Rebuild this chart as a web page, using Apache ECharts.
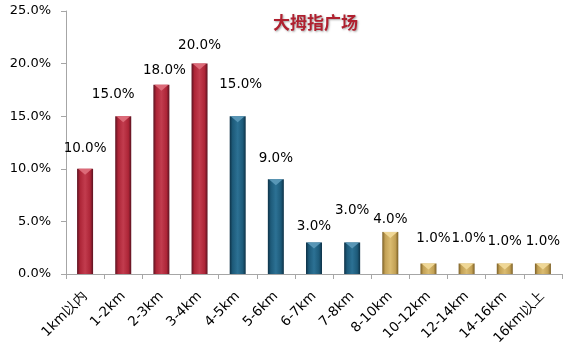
<!DOCTYPE html>
<html>
<head>
<meta charset="utf-8">
<script src="https://cdn.jsdelivr.net/npm/echarts@6/dist/echarts.min.js"></script>
<style>
  html, body { margin: 0; padding: 0; background: #fff; }
  #chart { width: 567px; height: 355px; }
</style>
</head>
<body>
<div id="chart"></div>
<script>
// 数据
const categories = ['1km以内', '1-2km', '2-3km', '3-4km', '4-5km', '5-6km', '6-7km', '7-8km', '8-10km', '10-12km', '12-14km', '14-16km', '16km以上'];
const shares = [10, 15, 18, 20, 15, 9, 3, 3, 4, 1, 1, 1, 1];
const groups = ['red', 'red', 'red', 'red', 'teal', 'teal', 'teal', 'teal', 'gold', 'gold', 'gold', 'gold', 'gold'];
const titleText = '大拇指广场';

// 配色
const palette = {
  red:  { edge: '#5a1220', mid: '#ad2537', light: '#c23c4e', tip: '#dc6a78' },
  teal: { edge: '#0d3146', mid: '#1d5a79', light: '#2c7194', tip: '#5896b6' },
  gold: { edge: '#7a5e25', mid: '#c3a155', light: '#dabb70', tip: '#efd796' }
};

// 数据标签微调 (Excel 里手动挪过)
const labelNudge = [[0, -8], [-10, -10], [3, -2], [0, -6], [3, -20], [0, -9], [0, -4], [0, -20], [0, 0], [5, -13], [2, -13], [0, -10], [0, -10]];

function barColor(g) {
  const c = palette[g];
  return new echarts.graphic.LinearGradient(0, 0, 1, 0, [
    { offset: 0, color: c.edge },
    { offset: 0.18, color: c.mid },
    { offset: 0.5, color: c.light },
    { offset: 0.82, color: c.mid },
    { offset: 1, color: c.edge }
  ]);
}

const barData = shares.map((v, i) => ({
  value: v,
  itemStyle: { color: barColor(groups[i]) },
  label: { offset: labelNudge[i] }
}));

const tipData = shares.map((v, i) => ({
  value: v,
  itemStyle: { color: palette[groups[i]].tip }
}));

let myChart = echarts.init(document.getElementById('chart'));
let option = {
  animation: false,
  textStyle: { fontFamily: 'DejaVu Sans' },
  title: {
    text: titleText,
    left: 268,
    top: 9,
    textStyle: {
      fontFamily: 'Noto Sans CJK SC',
      fontSize: 17,
      fontWeight: 'bold',
      color: '#b0202f',
      textShadowColor: 'rgba(0,0,0,0.35)',
      textShadowBlur: 2,
      textShadowOffsetX: 1,
      textShadowOffsetY: 1
    }
  },
  grid: { left: 66, right: 5, top: 11, bottom: 81, containLabel: false },
  xAxis: {
    type: 'category',
    data: categories,
    axisLine: { lineStyle: { color: '#a6a6a6', width: 1 } },
    axisTick: { show: true, length: 5, lineStyle: { color: '#a6a6a6' } },
    axisLabel: {
      interval: 0,
      rotate: 45,
      margin: 20,
      fontSize: 13.5,
      color: '#000',
      fontFamily: 'DejaVu Sans'
    }
  },
  yAxis: {
    type: 'value',
    min: 0,
    max: 25,
    interval: 5,
    axisLine: { show: true, lineStyle: { color: '#a6a6a6', width: 1 } },
    axisTick: { show: true, length: 5, lineStyle: { color: '#a6a6a6' } },
    splitLine: { show: false },
    axisLabel: {
      margin: 15,
      fontSize: 13,
      color: '#000',
      formatter: v => v.toFixed(1) + '%'
    }
  },
  series: [
    {
      type: 'bar',
      data: barData,
      barWidth: 16,
      label: {
        show: true,
        position: 'top',
        distance: 5,
        fontSize: 13.5,
        color: '#000',
        formatter: p => p.value.toFixed(1) + '%'
      }
    },
    {
      type: 'pictorialBar',
      data: tipData,
      symbol: 'path://M0,0 L16,0 L8,6 Z',
      symbolSize: [14, 6],
      symbolPosition: 'end',
      symbolOffset: [0, 0],
      barGap: '-100%',
      z: 3
    }
  ]
};
myChart.setOption(option);
</script>
</body>
</html>
